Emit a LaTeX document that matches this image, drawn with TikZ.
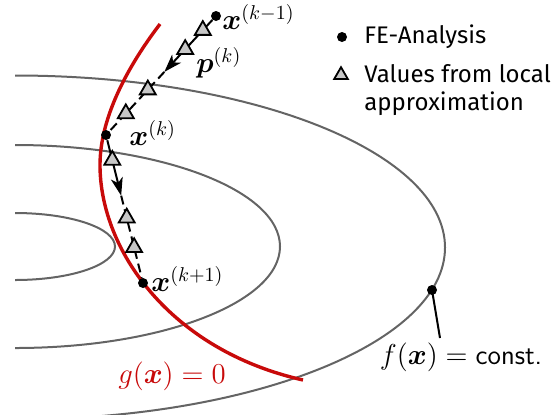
\documentclass[tikz,border=0pt]{standalone}
\usepackage{amsmath,amssymb,bm}
\usepackage{fontspec}
\newfontfamily\legendfont{Fira Sans}
\usetikzlibrary{calc, arrows.meta, shapes.geometric, positioning}
\definecolor{gred}{RGB}{200,10,10}
\definecolor{levelgray}{RGB}{100,100,100}
\tikzset{fedot/.style={circle,fill=black,inner sep=0pt,minimum size=5pt},
    apxtri/.style={regular polygon,regular polygon sides=3,draw=black,fill=black!22,
        line width=0.9pt,inner sep=0pt,minimum size=9.2pt},
    level/.style={draw=levelgray,line width=1pt},
    step line/.style={draw,line width=1pt},
    step dash/.style={step line,dash pattern=on 4.5pt off 2.5pt},
    lbl/.style={font=\fontsize{13.7}{16}\selectfont,inner sep=1pt},
    legtext/.style={font=\legendfont\large,inner sep=0pt,align=left}}

\begin{document}
\begin{tikzpicture}[x=0.5pt,y=-0.5pt]
    \useasboundingbox (0,0) rectangle (555,414);

    % Level sets of f, cut off at the left
    \begin{scope}
        \clip (15,0) rectangle (555,414);
        \draw[level] (15,246.5) ellipse [x radius=100, y radius=33.5];
        \draw[level] (15,246.5) ellipse [x radius=265, y radius=101.5];
        \draw[level] (15,247.5) ellipse [x radius=430, y radius=172];
    \end{scope}

    % Constraint g(x)=0
    \draw[gred, line width=1.7pt] (160,24) .. controls (125,70) and (100,120) .. (100,165)
        .. controls (100,250) and (170,350) .. (303,380);
    \node[lbl, text=gred] (glabel) at (172,376) {$g(\boldsymbol{x}) = 0$};

    % Iterates
    \node[fedot] (xkm1) at (216,16) {};
    \node[fedot] (xk)   at (106,135) {};
    \node[fedot] (xkp1) at (143,283) {};
    \node[lbl, anchor=west] (xkm1lbl) at (220,17) {$\boldsymbol{x}^{(k-1)}$};
    \node[lbl, anchor=west] (plbl) at (194,63) {$\boldsymbol{p}^{(k)}$};
    \node[lbl, anchor=west] (xklbl) at (127,133) {$\boldsymbol{x}^{(k)}$};
    \node[lbl, anchor=west] (xkp1lbl) at (149,279) {$\boldsymbol{x}^{(k+1)}$};

    % Search directions
    \coordinate (tip1) at ($(xkm1)!0.47!(xk)$);
    \coordinate (tip2) at ($(xk)!0.41!(xkp1)$);
    \draw[step line, -{Stealth[length=9pt,width=6pt,inset=2.5pt]}] (xkm1) -- (tip1);
    \draw[step dash] (tip1) -- (xk);
    \draw[step line, -{Stealth[length=9pt,width=6pt,inset=2.5pt]}] (xk) -- (tip2);
    \draw[step dash] (tip2) -- (xkp1);

    % Values from the local approximation
    \foreach \t in {0.12,0.28,0.62,0.82}
        \node[apxtri] at ($(xkm1)!\t!(xk)$) {};
    \foreach \t in {0.17,0.56,0.76}
        \node[apxtri] at ($(xk)!\t!(xkp1)$) {};

    % Label of the level set
    \node[fedot] (fpt) at (432,290) {};
    \node[lbl] (flbl) at (461,357) {$f(\boldsymbol{x}) = \textsf{const.}$};
    \coordinate (fend) at (440,338);
    \draw[step line] (fpt.center) -- (fend);

    % Legend
    \node[fedot] (legdot) at (342,37) {};
    \node[legtext, anchor=west] (legfe) at (364,37) {FE-Analysis};
    \node[apxtri, minimum size=7.8pt] (legtri) at (341,75) {};
    \node[legtext, anchor=north west] (legapx) at (364,64)
        {Values from local\\approximation};
\end{tikzpicture}
\end{document}
